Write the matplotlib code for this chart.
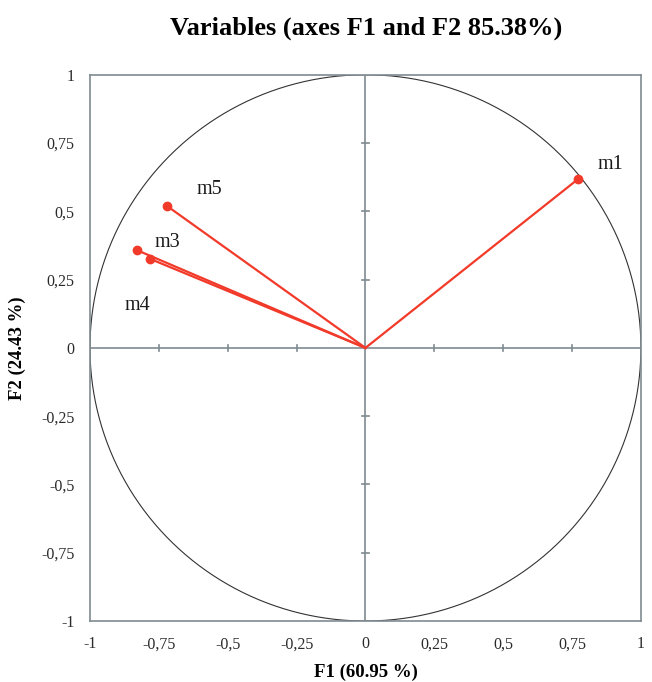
import numpy as np
import matplotlib
matplotlib.use("Agg")
import matplotlib.pyplot as plt

# variable coordinates on F1 / F2
names = ["m1", "m3", "m4", "m5"]
f1 = [0.773, -0.830, -0.782, -0.721]
f2 = [0.619, 0.358, 0.326, 0.520]
# where the labels sit
lab_x = [0.842, -0.766, -0.875, -0.613]
lab_y = [0.670, 0.385, 0.154, 0.579]

ticks = [-1, -0.75, -0.5, -0.25, 0, 0.25, 0.5, 0.75, 1]
tick_labels = ["-1", "-0,75", "-0,5", "-0,25", "0", "0,25", "0,5", "0,75", "1"]

plt.rcParams['font.family'] = ['Liberation Serif', 'DejaVu Serif']
red = "#f23a2a"
grey = "#7f8a90"

fig = plt.figure(figsize=(6.52, 6.82), dpi=100)
ax = fig.add_axes([0.138, 0.0894, 0.845, 0.801])
ax.set_xlim(-1, 1)
ax.set_ylim(-1, 1)

# unit circle
t = np.linspace(0, 2 * np.pi, 400)
ax.plot(np.cos(t), np.sin(t), color="#333333", lw=0.8, zorder=1)

# zero axes with crossing ticks
ax.axhline(0, color=grey, lw=1.2, zorder=1)
ax.axvline(0, color=grey, lw=1.2, zorder=1)
for v in ticks[1:-1]:
    if v == 0:
        continue
    ax.plot([v, v], [-0.012, 0.012], color=grey, lw=1.2, zorder=1)
    ax.plot([-0.012, 0.012], [v, v], color=grey, lw=1.2, zorder=1)

for i in range(len(names)):
    ax.plot([0, f1[i]], [0, f2[i]], color=red, lw=1.6, zorder=3)
    ax.plot(f1[i], f2[i], "o", color=red, ms=6, zorder=4)
    ax.text(lab_x[i], lab_y[i], names[i], fontsize=14.5, va="center", ha="left", color="#1a1a1a")

ax.set_xticks(ticks)
ax.set_xticklabels(tick_labels, fontsize=11.5)
ax.set_yticks(ticks)
ax.set_yticklabels(tick_labels, fontsize=11.5)
ax.tick_params(length=0, pad=11, colors="#2a2a2a")
for s in ax.spines.values():
    s.set_color(grey)
    s.set_linewidth(1.2)

ax.set_xlabel("F1 (60.95 %)", fontsize=13.5, fontweight="bold", labelpad=8)
ax.set_ylabel("F2 (24.43 %)", fontsize=13.5, fontweight="bold", labelpad=11)
fig.text(0.562, 0.958, "Variables (axes F1 and F2 85.38%)", fontsize=19,
         fontweight="bold", ha="center", va="center")

fig.savefig("out.png", dpi=100)
